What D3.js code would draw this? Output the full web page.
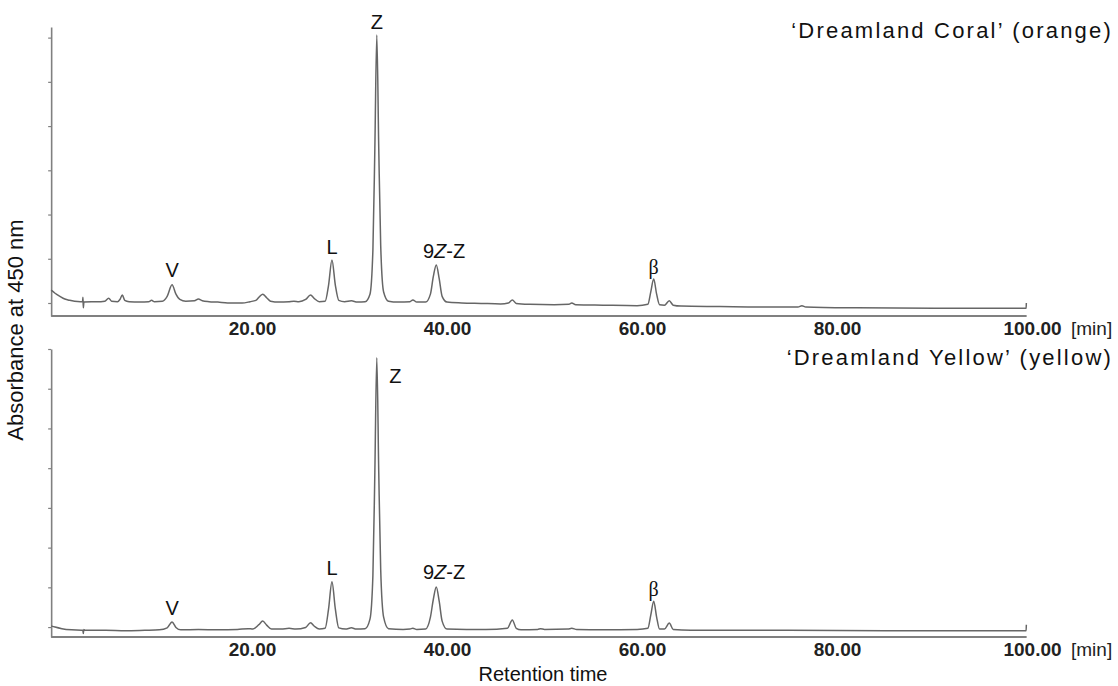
<!DOCTYPE html>
<html>
<head>
<meta charset="utf-8">
<script src="https://cdn.jsdelivr.net/npm/d3@7/dist/d3.min.js"></script>
<style>
  html, body { margin: 0; padding: 0; background: #fff; }
  svg { display: block; font-family: "Liberation Sans", Arial, sans-serif; }
</style>
</head>
<body>
<svg id="chart" width="1118" height="686"></svg>
<script>
// ---- Data ----
// Retention time [min], absorbance in y-tick units
const coralTrace = [
  [-0.6, 0.29], [-0.2, 0.22], [0.3, 0.15], [0.8, 0.09], [1.3, 0.06], [1.8, 0.04], [2.4, 0.03],
  [2.62, 0.03], [2.66, 0.13], [2.7, -0.11], [2.76, 0.02], [3.5, 0.03], [4.5, 0.03], [4.9, 0.04],
  [5.3, 0.11], [5.6, 0.04], [6.2, 0.03], [6.45, 0.08], [6.7, 0.18], [6.95, 0.06], [7.4, 0.03],
  [8.5, 0.02], [9.4, 0.03], [9.7, 0.06], [10.0, 0.03], [10.8, 0.04], [11.3, 0.15], [11.8, 0.41],
  [12.2, 0.2], [12.6, 0.08], [13.2, 0.04], [14.1, 0.05], [14.5, 0.09], [14.9, 0.05], [15.6, 0.03],
  [16.5, 0.02], [17.5, 0.0], [19.0, 0.0], [19.8, 0.03], [20.4, 0.06], [20.8, 0.15], [21.1, 0.2],
  [21.5, 0.12], [21.9, 0.04], [22.8, 0.02], [23.8, 0.03], [24.3, 0.04], [24.8, 0.03], [25.5, 0.08],
  [26.0, 0.18], [26.4, 0.1], [26.9, 0.03], [27.5, 0.04], [27.85, 0.4], [28.2, 0.97], [28.55, 0.4],
  [28.9, 0.06], [29.5, 0.03], [30.2, 0.05], [30.8, 0.02], [31.6, 0.03], [32.1, 0.2], [32.4, 1.2],
  [32.6, 3.5], [32.8, 6.06], [33.0, 3.5], [33.2, 1.3], [33.5, 0.25], [34.0, 0.04], [35.0, 0.02],
  [36.2, 0.03], [36.5, 0.07], [36.9, 0.02], [37.8, 0.02], [38.3, 0.2], [38.6, 0.6], [38.9, 0.86],
  [39.2, 0.55], [39.5, 0.15], [40.0, 0.02], [41.5, 0.0], [43.5, -0.01], [45.5, -0.02], [46.3, 0.0],
  [46.7, 0.07], [47.1, -0.01], [48.5, -0.03], [51.0, -0.04], [52.5, -0.03], [52.8, 0.0], [53.2, -0.04],
  [56.0, -0.05], [59.5, -0.06], [60.6, -0.03], [60.9, 0.25], [61.2, 0.54], [61.5, 0.2], [61.8, -0.04],
  [62.3, -0.05], [62.8, 0.05], [63.2, -0.05], [64.0, -0.07], [68.0, -0.08], [72.0, -0.09], [76.0, -0.09],
  [76.4, -0.06], [76.8, -0.09], [82.0, -0.11], [90.0, -0.12], [99.4, -0.12], [99.42, 0.0]
];
const yellowTrace = [
  [-0.6, 0.03], [-0.2, 0.0], [0.5, -0.04], [1.5, -0.07], [2.5, -0.08], [2.65, -0.08], [2.7, -0.16],
  [2.75, -0.06], [2.85, -0.08], [5.0, -0.08], [7.0, -0.09], [9.0, -0.08], [10.5, -0.07], [11.3, -0.02],
  [11.8, 0.13], [12.2, -0.01], [12.7, -0.07], [14.5, -0.06], [16.5, -0.07], [18.5, -0.06], [19.6, -0.04],
  [20.1, -0.05], [20.7, 0.06], [21.1, 0.15], [21.5, 0.05], [22.0, -0.05], [23.0, -0.05], [23.8, -0.03],
  [24.5, -0.05], [25.5, -0.01], [26.0, 0.11], [26.4, 0.02], [26.9, -0.05], [27.5, -0.03], [27.85, 0.45],
  [28.2, 1.14], [28.55, 0.45], [28.9, -0.02], [29.6, -0.05], [30.2, -0.02], [30.7, -0.05], [31.6, -0.04],
  [32.1, 0.2], [32.4, 1.3], [32.6, 3.9], [32.8, 6.78], [33.0, 3.9], [33.2, 1.45], [33.5, 0.25],
  [34.0, -0.04], [35.5, -0.06], [36.2, -0.05], [36.5, -0.03], [36.9, -0.06], [37.8, -0.05], [38.3, 0.25],
  [38.6, 0.7], [38.9, 1.01], [39.2, 0.65], [39.5, 0.15], [40.0, -0.05], [42.0, -0.06], [44.0, -0.06],
  [46.2, -0.03], [46.7, 0.18], [47.1, -0.03], [47.6, -0.07], [49.3, -0.06], [49.6, -0.04], [50.0, -0.06],
  [52.4, -0.05], [52.8, -0.03], [53.3, -0.06], [56.0, -0.07], [59.5, -0.06], [60.6, -0.03], [60.9, 0.3],
  [61.2, 0.65], [61.5, 0.25], [61.8, -0.05], [62.3, -0.05], [62.8, 0.1], [63.2, -0.06], [65.0, -0.08],
  [75.0, -0.08], [85.0, -0.09], [99.4, -0.09], [99.42, 0.06]
];

const panelTitles = ["\u2018Dreamland Coral\u2019 (orange)", "\u2018Dreamland Yellow\u2019 (yellow)"];
const xTickValues = [20, 40, 60, 80, 100];
const coralYTicks = [0, 1, 2, 3, 4, 5, 6];
const yellowYTicks = [0, 1, 2, 3, 4, 5, 6, 7];
// peak labels: name, retention time, label level (y units)
const coralPeaks = [
  { name: "V", t: 11.8, v: 0.58 }, { name: "L", t: 28.2, v: 1.1 }, { name: "Z", t: 32.8, v: 6.2 },
  { name: "9Z-Z", t: 39.7, v: 1.02 }, { name: "\u03b2", t: 61.2, v: 0.66 }
];
const yellowPeaks = [
  { name: "V", t: 11.8, v: 0.3 }, { name: "L", t: 28.2, v: 1.3 }, { name: "Z", t: 34.7, v: 6.15 },
  { name: "9Z-Z", t: 39.7, v: 1.2 }, { name: "\u03b2", t: 61.2, v: 0.78 }
];

// ---- Layout ----
const svg = d3.select("#chart");
const x = d3.scaleLinear().domain([0, 100]).range([57, 1032]);
const panels = [
  { trace: coralTrace, peaks: coralPeaks, title: panelTitles[0], ticks: coralYTicks,
    y: d3.scaleLinear().domain([-0.294, 6.24]).range([316, 27]), titleY: 38 },
  { trace: yellowTrace, peaks: yellowPeaks, title: panelTitles[1], ticks: yellowYTicks,
    y: d3.scaleLinear().domain([-0.25, 7.0]).range([637, 349]), titleY: 365 }
];

const axisColor = "#808080";
const traceColor = "#666";

panels.forEach(p => {
  const g = svg.append("g");
  const y0 = p.y.range()[0];

  // y axis
  const ya = g.append("g").attr("transform", `translate(${x(-0.6)},0)`)
    .call(d3.axisLeft(p.y).tickValues(p.ticks).tickSize(3).tickSizeOuter(0).tickFormat(""));
  ya.select(".domain").attr("stroke", axisColor).attr("stroke-width", 1.6);
  ya.selectAll(".tick line").attr("stroke", axisColor).attr("stroke-width", 1.2);

  // x axis baseline
  g.append("line")
    .attr("x1", x(-0.6)).attr("x2", x(99.45))
    .attr("y1", y0).attr("y2", y0)
    .attr("stroke", axisColor).attr("stroke-width", 2);

  // x tick labels
  const xa = g.append("g").attr("transform", `translate(0,${y0})`)
    .call(d3.axisBottom(x).tickValues(xTickValues).tickSize(0).tickFormat(d3.format(".2f")));
  xa.select(".domain").remove();
  xa.selectAll(".tick text")
    .attr("y", 19).attr("dy", 0)
    .attr("fill", "#222")
    .style("font-family", "'Liberation Sans', Arial, sans-serif")
    .style("font-size", "19px").style("font-weight", "bold");
  g.append("text").attr("x", x(100) + 39).attr("y", y0 + 19)
    .attr("fill", "#222")
    .style("font-size", "19px")
    .text("[min]");

  // trace
  const line = d3.line().x(d => x(d[0])).y(d => p.y(d[1])).curve(d3.curveMonotoneX);
  g.append("path").datum(p.trace)
    .attr("d", line)
    .attr("fill", "none")
    .attr("stroke", traceColor)
    .attr("stroke-width", 1.5)
    .attr("stroke-linejoin", "round");

  // peak labels
  p.peaks.forEach(pk => {
    const t = g.append("text")
      .attr("x", x(pk.t)).attr("y", p.y(pk.v))
      .attr("text-anchor", "middle")
      .attr("fill", "#111")
      .style("font-size", "20px");
    if (pk.name === "9Z-Z") {
      t.append("tspan").text("9");
      t.append("tspan").style("font-style", "italic").text("Z");
      t.append("tspan").text("-Z");
    } else if (pk.name === "\u03b2") {
      t.style("font-family", "'Liberation Serif', 'Times New Roman', serif").text(pk.name);
    } else {
      t.text(pk.name);
    }
  });

  // panel title
  g.append("text").attr("x", 1113).attr("y", p.titleY)
    .attr("text-anchor", "end").attr("fill", "#111")
    .style("font-size", "22px")
    .style("letter-spacing", "2.2px")
    .text(p.title);
});

// axis titles
svg.append("text")
  .attr("transform", "translate(23,330) rotate(-90)")
  .attr("text-anchor", "middle").attr("fill", "#111")
  .style("font-size", "22px")
  .text("Absorbance at 450 nm");
svg.append("text")
  .attr("x", 543).attr("y", 681)
  .attr("text-anchor", "middle").attr("fill", "#111")
  .style("font-size", "20px")
  .text("Retention time");
</script>
</body>
</html>
